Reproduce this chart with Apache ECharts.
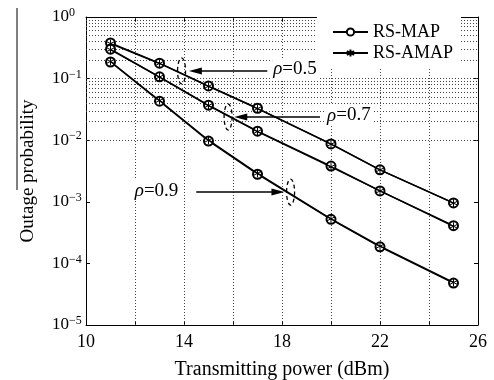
<!DOCTYPE html>
<html>
<head>
<meta charset="utf-8">
<script src="https://cdn.jsdelivr.net/npm/echarts@6/dist/echarts.min.js"></script>
<style>html,body{margin:0;padding:0;background:#fff}#c{width:494px;height:380px}</style>
</head>
<body>
<div id="c"></div>
<script>
// ---- data ----
const powers = [11, 13, 15, 17, 20, 22, 25];
const mapRho05  = [0.38, 0.178, 0.076, 0.033, 0.0087, 0.0033, 0.00096];
const amapRho05 = [0.37, 0.176, 0.075, 0.0325, 0.0086, 0.0033, 0.00095];
const mapRho07  = [0.30, 0.107, 0.037, 0.014, 0.0038, 0.0015, 0.00041];
const amapRho07 = [0.295, 0.106, 0.0365, 0.0138, 0.0037, 0.0015, 0.00040];
const mapRho09  = [0.186, 0.043, 0.0097, 0.0028, 0.00052, 0.000186, 0.000048];
const amapRho09 = [0.19, 0.044, 0.0100, 0.0029, 0.00053, 0.00019, 0.000049];
const xTicks = [10, 14, 18, 22, 26];
const yDecades = [1e-5, 1e-4, 1e-3, 1e-2, 1e-1, 1];
const xTitle = 'Transmitting power (dBm)';
const yTitle = 'Outage probability';
const legendNames = ['RS-MAP', 'RS-AMAP'];
// annotations: label, ellipse centre (data), arrow tail x, arrow tip x, text x (data)
const annotations = [
  {rho: '0.5', ex: 13.9, ey: 0.133, tail: 17.4, tip: 14.2, tx: 17.6},
  {rho: '0.7', ex: 15.8, ey: 0.0238, tail: 19.55, tip: 16.05, tx: 19.8},
  {rho: '0.9', ex: 18.35, ey: 0.00144, tail: 14.5, tip: 18.1, tx: 11.95}
];

const FONT = 'Liberation Serif';
const minorVals = [];
for (let d = -5; d < 0; d++) for (let k = 2; k <= 9; k++) minorVals.push(k * Math.pow(10, d));
const gridX = [];
for (let v = 12; v < 26; v += 2) gridX.push(v);
const gridY = yDecades.slice(1, -1);

const asterisk = 'path://M5,0L5,10M0.7,2.5L9.3,7.5M9.3,2.5L0.7,7.5';
const sup = v => { const e = Math.round(Math.log10(v)); return '{b|10}{s|' + (e < 0 ? '\u2212' + (-e) : e) + '}'; };

function mk(name, ys, isMap) {
  return {
    name: name, type: 'line', data: powers.map((x, i) => [x, ys[i]]),
    symbol: isMap ? 'emptyCircle' : asterisk, symbolSize: isMap ? 9 : 8,
    lineStyle: {color: '#000', width: 1.4},
    itemStyle: {color: '#000', borderColor: '#000', borderWidth: 1},
    z: isMap ? 3 : 4
  };
}
const dotted = {color: '#444', width: 1, type: [1, 2]};
const series = [
  mk('RS-MAP', mapRho05, true), mk('RS-AMAP', amapRho05, false),
  mk('RS-MAP', mapRho07, true), mk('RS-AMAP', amapRho07, false),
  mk('RS-MAP', mapRho09, true), mk('RS-AMAP', amapRho09, false)
];
series[0].markLine = {silent: true, symbol: 'none', label: {show: false}, lineStyle: dotted, z: 1,
  data: minorVals.concat(gridY).map(v => ({yAxis: v})).concat(gridX.map(v => ({xAxis: v})))};

const xBase = {type: 'value', min: 10, max: 26, interval: 2,
  axisLine: {show: true, lineStyle: {color: '#000', width: 1}},
  axisTick: {show: true, inside: true, length: 4, lineStyle: {color: '#000'}},
  splitLine: {show: false}};
const yBase = {type: 'log', logBase: 10, min: 1e-5, max: 1,
  axisLine: {show: true, lineStyle: {color: '#000', width: 1}},
  axisTick: {show: true, inside: true, length: 4, lineStyle: {color: '#000'}},
  splitLine: {show: false}};

const option = {
  backgroundColor: '#fff',
  animation: false,
  textStyle: {fontFamily: FONT},
  grid: {left: 86, right: 16, top: 17, bottom: 55, containLabel: false, outerBoundsMode: 'none'},
  legend: {
    data: legendNames, right: 33, top: 17, orient: 'vertical', itemGap: 3,
    itemWidth: 35, itemHeight: 9, backgroundColor: '#fff', padding: [6, 8, 6, 15],
    textStyle: {fontFamily: FONT, fontSize: 18, color: '#000'}
  },
  xAxis: [
    Object.assign({}, xBase, {
      position: 'bottom', name: xTitle, nameLocation: 'middle', nameGap: 35,
      nameTextStyle: {fontFamily: FONT, fontSize: 20, color: '#000'},
      axisLabel: {color: '#000', fontFamily: FONT, fontSize: 18, margin: 8,
        formatter: v => xTicks.indexOf(v) >= 0 ? String(v) : ''}
    }),
    Object.assign({}, xBase, {position: 'top', axisLabel: {show: false}})
  ],
  yAxis: [
    Object.assign({}, yBase, {
      position: 'left', name: yTitle, nameLocation: 'middle', nameGap: 48,
      nameTextStyle: {fontFamily: FONT, fontSize: 19, color: '#000'},
      axisLabel: {color: '#000', margin: 34, align: 'left', formatter: v => sup(v),
        rich: {b: {fontFamily: FONT, fontSize: 17, color: '#000', lineHeight: 20},
               s: {fontFamily: FONT, fontSize: 12, color: '#000', verticalAlign: 'top', lineHeight: 13}}}
    }),
    Object.assign({}, yBase, {position: 'right', axisLabel: {show: false}})
  ],
  series: series
};

const chart = echarts.init(document.getElementById('c'), null, {renderer: 'canvas'});
chart.setOption(option);

const g = [];
annotations.forEach(a => {
  const c = chart.convertToPixel({xAxisIndex: 0, yAxisIndex: 0}, [a.ex, a.ey]);
  const tail = chart.convertToPixel({xAxisIndex: 0, yAxisIndex: 0}, [a.tail, a.ey]);
  const tip = chart.convertToPixel({xAxisIndex: 0, yAxisIndex: 0}, [a.tip, a.ey]);
  const tp = chart.convertToPixel({xAxisIndex: 0, yAxisIndex: 0}, [a.tx, a.ey]);
  const dir = tip[0] < tail[0] ? -1 : 1;
  g.push({type: 'text', z: 50, left: tp[0], top: c[1] - 12,
    style: {text: '{i|\u03c1}{n|=' + a.rho + '}', backgroundColor: '#fff', padding: [1, 2, 1, 1],
      rich: {i: {fontFamily: FONT, fontStyle: 'italic', fontSize: 19, fill: '#000'},
             n: {fontFamily: FONT, fontSize: 19, fill: '#000'}}}});
  g.push({type: 'line', z: 50, shape: {x1: tail[0], y1: c[1], x2: tip[0] - dir * 8, y2: c[1]},
    style: {stroke: '#000', lineWidth: 1.5}});
  g.push({type: 'polygon', z: 50, shape: {points: [[tip[0], c[1]], [tip[0] - dir * 13, c[1] - 3.5], [tip[0] - dir * 13, c[1] + 3.5]]},
    style: {fill: '#000'}});
  g.push({type: 'ellipse', z: 50, shape: {cx: c[0], cy: c[1], rx: 4, ry: 13},
    style: {fill: 'none', stroke: '#000', lineWidth: 1.3, lineDash: [4, 3]}});
});
// overline on the y-axis title
g.push({type: 'line', z: 50, shape: {x1: 17, y1: 8, x2: 17, y2: 190}, style: {stroke: '#000', lineWidth: 1}});
chart.setOption({graphic: g});
</script>
</body>
</html>
